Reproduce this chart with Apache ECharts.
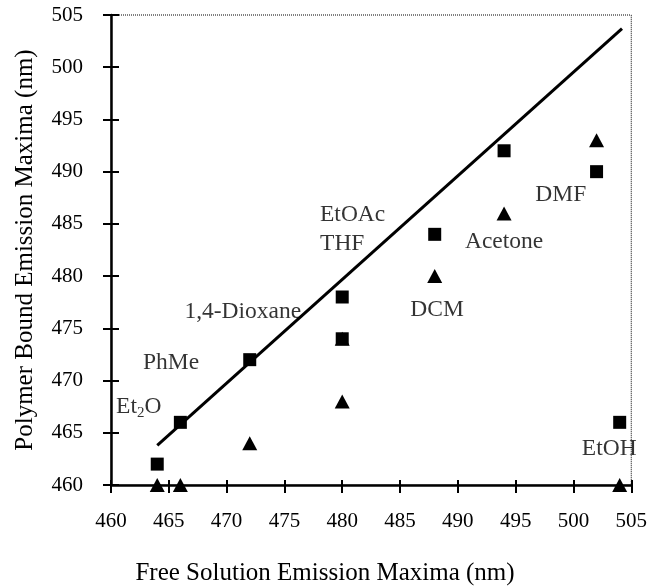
<!DOCTYPE html>
<html>
<head>
<meta charset="utf-8">
<script src="https://cdn.jsdelivr.net/npm/echarts@6/dist/echarts.min.js"></script>
<style>html,body{margin:0;padding:0;background:#fff}#c{width:650px;height:588px}</style>
</head>
<body>
<div id="c"></div>
<script>
// ---- data ----
var solvents = ['Et2O', 'PhMe', '1,4-Dioxane', 'THF', 'EtOAc', 'DCM', 'Acetone', 'DMF', 'EtOH'];
var freeMax = [464, 466, 472, 480, 480, 488, 494, 502, 504];
var squareVals = [462, 466, 472, 474, 478, 484, 492, 490, 466];
var triangleVals = [460, 460, 464, 468, 474, 480, 486, 493, 460];
var fitX = [464, 504.2];
var fitY = [463.8, 503.7];
var xTicks = [460, 465, 470, 475, 480, 485, 490, 495, 500, 505];
var yTicks = [460, 465, 470, 475, 480, 485, 490, 495, 500, 505];
// annotation labels and their anchor (data units)
var noteText = ['Et2O', 'PhMe', '1,4-Dioxane', 'EtOAc', 'THF', 'DCM', 'Acetone', 'DMF', 'EtOH'];
var noteX = [462.4, 465.2, 471.4, 480.9, 480.0, 488.2, 494.0, 498.9, 503.1];
var noteY = [467.5, 471.7, 476.6, 485.9, 483.1, 476.8, 483.3, 487.8, 463.5];

var FONT = 'Liberation Serif';
function pairs(xs, ys) { return xs.map(function (x, i) { return [x, ys[i]]; }); }

var chart = echarts.init(document.getElementById('c'));
var axisBase = {
  type: 'value', min: xTicks[0], max: xTicks[xTicks.length - 1], interval: 5,
  splitLine: { show: false }
};
chart.setOption({
  animation: false,
  backgroundColor: '#fff',
  title: {
    text: 'Free Solution Emission Maxima (nm)', left: 'center', top: 556,
    textStyle: { fontFamily: FONT, fontSize: 25, fontWeight: 'normal', color: '#000' }
  },
  grid: {
    left: 111, right: 12, top: 15, bottom: 103,
    show: true, borderColor: '#000', borderWidth: 1, borderType: 'dotted', backgroundColor: 'transparent'
  },
  xAxis: [
    Object.assign({}, axisBase, {
      position: 'bottom',
      axisLine: { lineStyle: { color: '#000', width: 2.5 } },
      axisTick: { length: 8, lineStyle: { color: '#000', width: 2 } },
      axisLabel: { fontFamily: FONT, fontSize: 21, color: '#000', margin: 26 }
    }),
    Object.assign({}, axisBase, {
      position: 'bottom',
      axisLine: { show: false },
      axisTick: { inside: true, length: 5, lineStyle: { color: '#000', width: 2 } },
      axisLabel: { show: false }
    })
  ],
  yAxis: [
    {
      type: 'value', min: yTicks[0], max: yTicks[yTicks.length - 1], interval: 5, position: 'left',
      splitLine: { show: false },
      axisLine: { lineStyle: { color: '#000', width: 2.5 } },
      axisTick: { length: 8, lineStyle: { color: '#000', width: 2 } },
      axisLabel: { fontFamily: FONT, fontSize: 21, color: '#000', margin: 28 },
      name: 'Polymer Bound Emission Maxima (nm)', nameLocation: 'middle', nameGap: 73,
      nameTextStyle: { fontFamily: FONT, fontSize: 25, color: '#000' }
    },
    {
      type: 'value', min: yTicks[0], max: yTicks[yTicks.length - 1], interval: 5, position: 'left',
      splitLine: { show: false },
      axisLine: { show: false },
      axisTick: { inside: true, length: 8, lineStyle: { color: '#000', width: 2 } },
      axisLabel: { show: false }
    }
  ],
  series: [
    {
      type: 'line', data: pairs(fitX, fitY), symbol: 'none', silent: true,
      lineStyle: { color: '#000', width: 3 }
    },
    {
      type: 'scatter', data: pairs(freeMax, squareVals), symbol: 'rect', symbolSize: 13,
      itemStyle: { color: '#000', opacity: 1 }, clip: false, silent: true
    },
    {
      type: 'scatter', data: pairs(freeMax, triangleVals), symbol: 'triangle', symbolSize: [15, 14],
      itemStyle: { color: '#000', opacity: 1 }, clip: false, silent: true
    },
    {
      type: 'scatter', data: pairs(noteX, noteY), symbolSize: 1, silent: true, clip: false,
      itemStyle: { color: 'rgba(0,0,0,0)' },
      label: {
        show: true, position: 'inside', color: '#000', fontFamily: FONT, fontSize: 23.5,
        formatter: function (p) {
          var t = noteText[p.dataIndex];
          if (t === 'Et2O') return '{a|Et}{s|2}{a|O}';
          return t;
        },
        rich: {
          a: { fontFamily: FONT, fontSize: 23.5, color: '#000' },
          s: { fontFamily: FONT, fontSize: 15, color: '#000', padding: [12, 0, 0, 0] }
        }
      }
    }
  ]
});
</script>
</body>
</html>
